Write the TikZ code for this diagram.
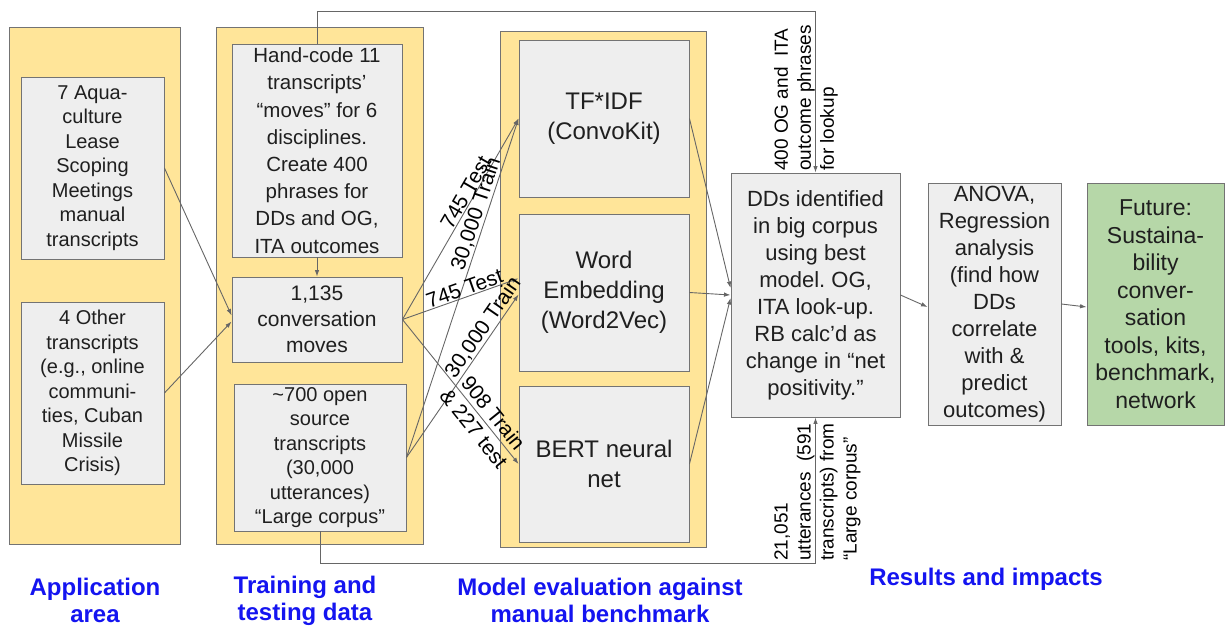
\documentclass[tikz,border=0pt]{standalone}
\usepackage{fontspec}
\setmainfont{Liberation Sans}
\usetikzlibrary{arrows.meta}
\frenchspacing

\definecolor{panelfill}{HTML}{FFE599}
\definecolor{boxfill}{HTML}{EEEEEE}
\definecolor{edgegray}{HTML}{737373}
\definecolor{linkgray}{HTML}{666666}
\definecolor{futuregreen}{HTML}{B6D7A8}
\definecolor{headblue}{HTML}{1414F0}

\tikzset{
  panel/.style={draw=edgegray, fill=panelfill, line width=0.9pt, inner sep=0pt},
  stepbox/.style={draw=edgegray, fill=boxfill, line width=0.9pt, inner sep=0pt,
    align=center, text=black!88},
  smalltext/.style={font=\fontsize{20}{24.5}\selectfont},
  midtext/.style={font=\fontsize{22}{27}\selectfont},
  bigtext/.style={font=\fontsize{24}{30}\selectfont},
  link/.style={draw=linkgray, line width=0.9pt, -{Latex[length=6.5pt,width=4.5pt]}},
  flowlabel/.style={font=\fontsize{21}{25}\selectfont, sloped, inner sep=1pt, align=center},
  sidelabel/.style={font=\fontsize{19}{23}\selectfont, rotate=90, anchor=west,
    align=left, inner sep=0pt},
  heading/.style={font=\fontsize{24}{27}\selectfont\bfseries, text=headblue, align=center},
}

\begin{document}
\begin{tikzpicture}[x=1pt, y=-1pt]
\useasboundingbox (0,0) rectangle (1225,626);

% column panels
\node[panel, minimum width=171pt, minimum height=517pt] (P1) at (94.5,285.5) {};
\node[panel, minimum width=207pt, minimum height=517pt] (P2) at (319.5,285.5) {};
\node[panel, minimum width=206pt, minimum height=516pt] (P3) at (603,289) {};

% application area
\node[stepbox, smalltext, minimum width=143pt, minimum height=182pt] (A1) at (92.5,168)
  {7 Aqua-\\culture\\Lease\\Scoping\\Meetings\\manual\\transcripts};
\node[stepbox, smalltext, minimum width=143pt, minimum height=182pt] (A2) at (92.5,393)
  {4 Other\\transcripts\\(e.g., online\\communi-\\ties, Cuban\\Missile\\Crisis)};

% training and testing data
\node[stepbox, font=\fontsize{20.5}{27.2}\selectfont, minimum width=170pt, minimum height=213pt] (B1) at (317,150.5)
  {Hand-code 11\\transcripts’\\“moves” for 6\\disciplines.\\Create 400\\phrases for\\DDs and OG,\\ITA outcomes};
\node[stepbox, font=\fontsize{21}{26}\selectfont, minimum width=170pt, minimum height=85pt] (B2) at (317,319.5)
  {1,135\\conversation\\moves};
\node[stepbox, smalltext, minimum width=172pt, minimum height=147pt] (B3) at (320,457.5)
  {\textasciitilde700 open\\source\\transcripts\\(30,000\\utterances)\\“Large corpus”};

% models
\node[stepbox, bigtext, minimum width=170pt, minimum height=157pt] (C1) at (604,118.5)
  {TF*IDF\\(ConvoKit)};
\node[stepbox, bigtext, minimum width=170pt, minimum height=157pt] (C2) at (604,292.5)
  {Word\\Embedding\\(Word2Vec)};
\node[stepbox, bigtext, minimum width=170pt, minimum height=156pt] (C3) at (604,464)
  {BERT neural\\net};

% results and impacts
\node[stepbox, midtext, minimum width=169pt, minimum height=244pt] (D) at (815.5,295)
  {DDs identified\\in big corpus\\using best\\model. OG,\\ITA look-up.\\RB calc’d as\\change in “net\\positivity.”};
\node[stepbox, midtext, minimum width=133pt, minimum height=242pt] (E) at (994.5,304)
  {ANOVA,\\Regression\\analysis\\(find how\\DDs\\correlate\\with \&\\predict\\outcomes)};
\node[stepbox, fill=futuregreen, font=\fontsize{23}{27.5}\selectfont, minimum width=137pt, minimum height=242pt] (F) at (1155.5,304)
  {Future:\\Sustaina-\\bility\\conver-\\sation\\tools, kits,\\benchmark,\\network};

% inputs to the conversation moves
\draw[link] (A1.east) -- ([yshift=4pt]B2.west);
\draw[link] (A2.east) -- ([yshift=-2pt]B2.west);
\draw[link] (B1.south) -- (B2.north);

% training / testing splits
\draw[link] (B2.east) -- node[flowlabel, pos=0.61, above] {745 Test} (C1.west);
\draw[link] (B3.east) -- node[flowlabel, pos=0.71, above] {30,000 Train} (C1.west);
\draw[link] (B2.east) -- node[flowlabel, pos=0.56, above] {745 Test} ([yshift=14pt]C2.west);
\draw[link] (B3.east) -- node[flowlabel, pos=0.76, above] {30,000 Train} ([yshift=-2pt]C2.west);
\draw[link] (B2.east) -- node[flowlabel, pos=0.7] {908 Train\\\& 227 test} (C3.west);

% models to the large-corpus step
\draw[link] (C1.east) -- ([yshift=7pt]D.west);
\draw[link] (C2.east) -- (D.west);
\draw[link] (C3.east) -- ([yshift=-3pt]D.west);
\draw[link] (D.east) -- ([yshift=-3pt]E.west);
\draw[link] (E.east) -- ([yshift=-3pt]F.west);

% lookup phrases and large corpus feeds
\coordinate (topturn) at (0,11);
\coordinate (botturn) at (0,563);
\draw[link] (B1.north) -- (B1.north |- topturn) -| (D.north);
\draw[link] (B3.south) -- (B3.south |- botturn) -| (D.south);
\node[sidelabel] (toplbl) at (806,171) {400 OG and\ \ ITA\\outcome phrases\\for lookup};
\node[sidelabel] (botlbl) at (817.5,561) {21,051\\utterances\ \ (591\\transcripts) from\\“Large corpus”};

% column headings
\node[heading] (h1) at (95,600.5) {Application\\area};
\node[heading] (h2) at (305,600.5) {Training and\\testing data};
\node[heading] (h3) at (600,600.5) {Model evaluation against\\manual benchmark};
\node[heading] (h4) at (986,579) {Results and impacts};
\end{tikzpicture}
\end{document}
